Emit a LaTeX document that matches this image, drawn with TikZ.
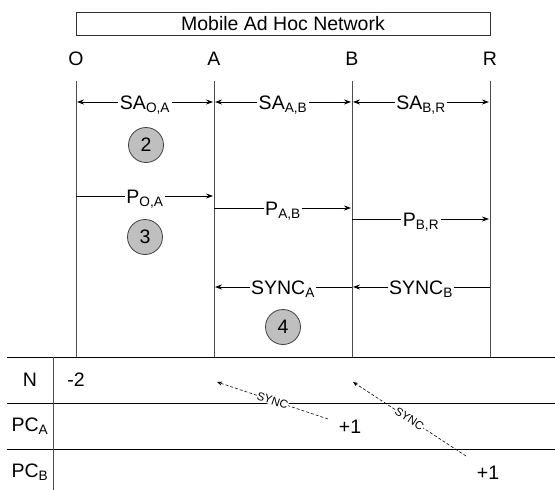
\documentclass[tikz,border=0pt]{standalone}
\usepackage{fontspec}
\setmainfont{Liberation Sans}
\usetikzlibrary{arrows.meta}
\begin{document}
\begin{tikzpicture}[x=1pt,y=-1pt,
  txt/.style={font=\fontsize{19.5}{23}\selectfont, inner sep=0pt},
  colline/.style={draw=black!70, line width=0.9pt},
  tabline/.style={draw=black, line width=1pt},
  msg/.style={draw=black, line width=0.8pt},
  tipr/.style={-{Stealth[length=7pt,width=5pt]}},
  tipl/.style={{Stealth[length=7pt,width=5pt]}-},
  tipb/.style={{Stealth[length=7pt,width=5pt]}-{Stealth[length=7pt,width=5pt]}},
  arrlbl/.style={txt, fill=white, inner xsep=1.5pt, anchor=base, yshift=-7pt},
  numcirc/.style={circle, draw=black!75, fill=black!25, line width=0.8pt,
    minimum size=35pt, inner sep=0pt, font=\fontsize{19.5}{23}\selectfont},
  syncarr/.style={densely dashed, line width=0.6pt, draw=black,
    -{Stealth[length=5pt,width=4pt]}},
  synclbl/.style={font=\fontsize{11.5}{13}\selectfont, sloped, fill=white, inner sep=0.3pt}
]
\useasboundingbox (0,0) rectangle (555,490);

% title
\node[txt, draw=black!80, line width=0.8pt, minimum width=414pt, minimum height=23pt]
  (title) at (283,23.5) {Mobile Ad Hoc Network};

% node names
\node[txt] (O) at (76,59) {O};
\node[txt] (A) at (214,59) {A};
\node[txt] (B) at (352,59) {B};
\node[txt] (R) at (490,59) {R};

% columns
\foreach \n/\x in {O/76, A/214, B/352, R/490}{
  \coordinate (\n top) at (\x,81);
  \coordinate (\n bot) at (\x,357);
  \draw[colline] (\n top) -- (\n bot);
  \coordinate (\n sa) at (\x,102);
}

% SA arrows
\draw[msg, tipb, shorten <=1pt, shorten >=1pt] (Osa) -- node[arrlbl] {SA\textsubscript{O,A}} (Asa);
\draw[msg, tipb, shorten <=1pt, shorten >=1pt] (Asa) -- node[arrlbl] {SA\textsubscript{A,B}} (Bsa);
\draw[msg, tipb, shorten <=1pt, shorten >=1pt] (Bsa) -- node[arrlbl] {SA\textsubscript{B,R}} (Rsa);

\node[numcirc] (c2) at (146,145) {2};

% P arrows
\coordinate (pO1) at (76,196);  \coordinate (pA1) at (214,196);
\coordinate (pA2) at (214,208); \coordinate (pB2) at (352,208);
\coordinate (pB3) at (352,219); \coordinate (pR3) at (490,219);
\draw[msg, tipr, shorten >=1pt] (pO1) -- node[arrlbl] {P\textsubscript{O,A}} (pA1);
\draw[msg, tipr, shorten >=1pt] (pA2) -- node[arrlbl] {P\textsubscript{A,B}} (pB2);
\draw[msg, tipr, shorten >=1pt] (pB3) -- node[arrlbl] {P\textsubscript{B,R}} (pR3);

\node[numcirc] (c3) at (145,237) {3};

% SYNC arrows
\coordinate (sA) at (214,287); \coordinate (sB) at (352,287); \coordinate (sR) at (490,287);
\draw[msg, tipl, shorten <=1pt] (sA) -- node[arrlbl] {SYNC\textsubscript{A}} (sB);
\draw[msg, tipl, shorten <=1pt] (sB) -- node[arrlbl] {SYNC\textsubscript{B}} (sR);

\node[numcirc] (c4) at (283,327) {4};

% table
\coordinate (h1l) at (7,357);   \coordinate (h1r) at (555,357);
\coordinate (h2l) at (7,403);   \coordinate (h2r) at (555,403);
\coordinate (h3l) at (7,449);   \coordinate (h3r) at (555,449);
\coordinate (vt) at (53,357);   \coordinate (vb) at (53,490);
\draw[tabline] (h1l) -- (h1r);
\draw[tabline] (h2l) -- (h2r);
\draw[tabline] (h3l) -- (h3r);
\draw[colline] (vt) -- (vb);

\node[txt] (rN) at (30,380) {N};
\node[txt] (rPCA) at (30,426) {PC\textsubscript{A}};
\node[txt] (rPCB) at (30,472) {PC\textsubscript{B}};

\node[txt] (m2) at (76,380) {-2};
\node[txt] (p1a) at (350,427) {+1};
\node[txt] (p1b) at (488,473) {+1};

% dashed SYNC arrows
\coordinate (d1s) at (328,419); \coordinate (d1e) at (217,382);
\coordinate (d2s) at (466,456); \coordinate (d2e) at (353,382);
\draw[syncarr] (d1s) -- node[synclbl] {SYNC} (d1e);
\draw[syncarr] (d2s) -- node[synclbl] {SYNC} (d2e);
\end{tikzpicture}
\end{document}
